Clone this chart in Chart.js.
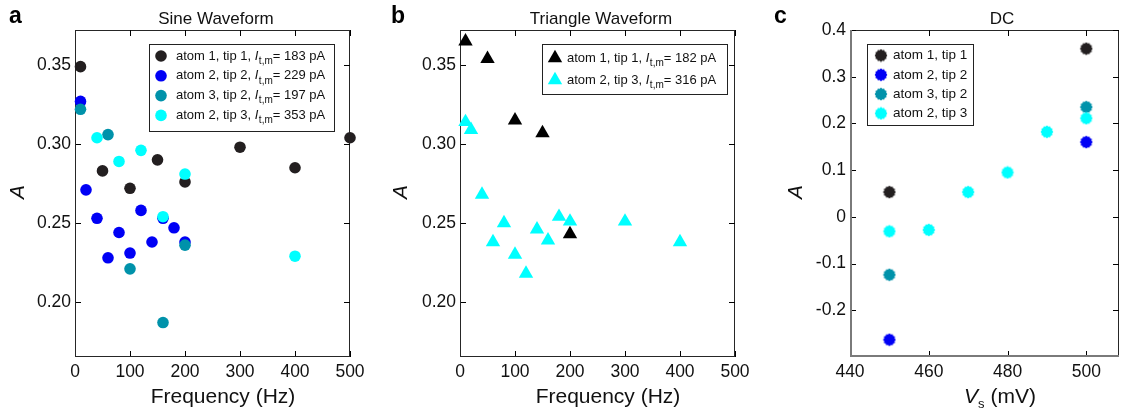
<!DOCTYPE html>
<html>
<head>
<meta charset="utf-8">
<script src="https://cdn.jsdelivr.net/npm/chart.js@4.4.0/dist/chart.umd.min.js"></script>
<style>
  body { margin: 0; background: #fff; width: 1125px; height: 415px; overflow: hidden; position: relative; }
  .panel { position: absolute; top: 0; width: 375px; height: 415px; }
</style>
</head>
<body>
<div class="panel" style="left:0"><canvas id="chart-a" width="375" height="415"></canvas></div>
<div class="panel" style="left:375px"><canvas id="chart-b" width="375" height="415"></canvas></div>
<div class="panel" style="left:750px"><canvas id="chart-c" width="375" height="415"></canvas></div>
<script>
// ---- data ----
const sineFreqAtom1Tip1 = [10, 50, 100, 150, 200, 300, 400, 500];
const sineAmpAtom1Tip1  = [0.349, 0.283, 0.272, 0.290, 0.276, 0.298, 0.285, 0.304];
const sineFreqAtom2Tip2 = [10, 20, 40, 60, 80, 100, 120, 140, 160, 180, 200];
const sineAmpAtom2Tip2  = [0.327, 0.271, 0.253, 0.228, 0.244, 0.231, 0.258, 0.238, 0.253, 0.247, 0.238];
const sineFreqAtom3Tip2 = [10, 60, 100, 160, 200];
const sineAmpAtom3Tip2  = [0.322, 0.306, 0.221, 0.187, 0.236];
const sineFreqAtom2Tip3 = [40, 80, 120, 160, 200, 400];
const sineAmpAtom2Tip3  = [0.304, 0.289, 0.296, 0.254, 0.281, 0.229];
const sineNames    = ['atom 1, tip 1', 'atom 2, tip 2', 'atom 3, tip 2', 'atom 2, tip 3'];
const sineCurrents = [183, 229, 197, 353];

const triFreqAtom1Tip1 = [10, 50, 100, 150, 200];
const triAmpAtom1Tip1  = [0.365, 0.354, 0.315, 0.307, 0.243];
const triFreqAtom2Tip3 = [10, 20, 40, 60, 80, 100, 120, 140, 160, 180, 200, 300, 400];
const triAmpAtom2Tip3  = [0.314, 0.309, 0.268, 0.238, 0.250, 0.230, 0.218, 0.246, 0.239, 0.254, 0.251, 0.251, 0.238];
const triNames    = ['atom 1, tip 1', 'atom 2, tip 3'];
const triCurrents = [182, 316];

const dcVoltAtom1Tip1 = [450, 500];
const dcAmpAtom1Tip1  = [0.053, 0.360];
const dcVoltAtom2Tip2 = [450, 500];
const dcAmpAtom2Tip2  = [-0.263, 0.160];
const dcVoltAtom3Tip2 = [450, 500];
const dcAmpAtom3Tip2  = [-0.124, 0.235];
const dcVoltAtom2Tip3 = [450, 460, 470, 480, 490, 500];
const dcAmpAtom2Tip3  = [-0.031, -0.028, 0.053, 0.095, 0.182, 0.211];
const dcNames = ['atom 1, tip 1', 'atom 2, tip 2', 'atom 3, tip 2', 'atom 2, tip 3'];

const freqTicks = [0, 100, 200, 300, 400, 500];
const waveAmpTicks = [0.20, 0.25, 0.30, 0.35];
const waveAmpTickLabels = ['0.20', '0.25', '0.30', '0.35'];
const voltTicks = [440, 460, 480, 500];
const dcAmpTicks = [-0.2, -0.1, 0, 0.1, 0.2, 0.3, 0.4];
const dcAmpTickLabels = ['-0.2', '-0.1', '0', '0.1', '0.2', '0.3', '0.4'];

const BLACK = '#231f20';
const BLUE = '#0000f5';
const TEAL = '#0092aa';
const CYAN = '#00ffff';
const FONT = '"Liberation Sans", Arial, sans-serif';

function pts(xs, ys) {
    return xs.map((x, i) => ({ x: x, y: ys[i] }));
}

// jagged filled circle, like the matlab hexagram-ish markers in panel c
function makeStar(color) {
    const c = document.createElement('canvas');
    c.width = 14; c.height = 14;
    const g = c.getContext('2d');
    g.fillStyle = color;
    g.beginPath();
    for (let i = 0; i < 24; i++) {
        const ang = i * Math.PI / 12;
        const r = i % 2 ? 5.4 : 6.4;
        g.lineTo(7 + r * Math.cos(ang), 7 + r * Math.sin(ang));
    }
    g.closePath();
    g.fill();
    return c;
}

function drawMarker(ctx, style, color, x, y, r) {
    ctx.fillStyle = color;
    if (style === 'circle') {
        ctx.beginPath();
        ctx.arc(x, y, r, 0, Math.PI * 2);
        ctx.fill();
    } else if (style === 'triangle') {
        ctx.beginPath();
        for (let i = 0; i < 3; i++) {
            const ang = i * 2 * Math.PI / 3;
            ctx.lineTo(x + Math.sin(ang) * r, y - Math.cos(ang) * r);
        }
        ctx.closePath();
        ctx.fill();
    } else {
        ctx.drawImage(style, x - style.width / 2, y - style.height / 2);
    }
}

function drawCurrentLabel(ctx, x, y, name, current) {
    ctx.fillStyle = '#111';
    ctx.textAlign = 'left';
    ctx.textBaseline = 'middle';
    ctx.font = '13px ' + FONT;
    const t = name + ', ';
    ctx.fillText(t, x, y);
    x += ctx.measureText(t).width;
    ctx.font = 'italic 13px ' + FONT;
    ctx.fillText('I', x, y);
    x += ctx.measureText('I').width + 0.5;
    ctx.font = '10px ' + FONT;
    ctx.fillText('t,m', x, y + 5);
    x += ctx.measureText('t,m').width;
    ctx.font = '13px ' + FONT;
    ctx.fillText('= ' + current + ' pA', x, y);
}

// box, inward tick marks on all sides
function drawFrame(chart, o) {
    const ctx = chart.ctx;
    const a = chart.chartArea;
    const xs = chart.scales.x, ys = chart.scales.y;
    const L = Math.round(a.left), R = Math.round(a.right) - 1;
    const T = Math.round(a.top), B = Math.round(a.bottom) - 1;
    ctx.save();
    ctx.fillStyle = o.boxColor;
    ctx.fillRect(L, T, R - L + 1, 1);
    ctx.fillRect(R, T, 1, B - T + 1);
    ctx.fillStyle = '#000';
    o.xTicks.forEach(v => {
        const px = Math.round(xs.getPixelForValue(v));
        ctx.fillRect(px, T, 1, 6);
        ctx.fillRect(px, B - 5, 1, 6);
    });
    o.yTicks.forEach(v => {
        const py = Math.round(ys.getPixelForValue(v));
        ctx.fillRect(R - 5, py, 6, 1);
        ctx.fillRect(L, py, 6, 1);
    });
    ctx.fillStyle = o.axisColor;
    ctx.fillRect(L, T, o.axisWidth, B - T + 1);
    ctx.fillRect(L, B + 1 - o.axisWidth, R - L + 1, o.axisWidth);
    ctx.restore();
}

// panel letter, title, axis titles, legend
function drawDecor(chart, o) {
    const ctx = chart.ctx;
    ctx.save();
    ctx.fillStyle = '#000';
    ctx.textBaseline = 'alphabetic';
    ctx.textAlign = 'left';
    ctx.font = 'bold 23px ' + FONT;
    ctx.fillText(o.letter, o.letterX, 23);

    ctx.textAlign = 'center';
    ctx.textBaseline = 'middle';
    ctx.font = '17px ' + FONT;
    ctx.fillStyle = '#111';
    ctx.fillText(o.title, o.titleX, 19);

    if (o.xTitleSub) {
        ctx.font = 'italic 21px ' + FONT;
        const w1 = ctx.measureText(o.xTitle).width;
        ctx.font = '13px ' + FONT;
        const ws = ctx.measureText(o.xTitleSub).width;
        ctx.font = '21px ' + FONT;
        const w2 = ctx.measureText(o.xTitleRest).width;
        let x = o.xTitleX - (w1 + ws + w2) / 2;
        ctx.textAlign = 'left';
        ctx.font = 'italic 21px ' + FONT;
        ctx.fillText(o.xTitle, x, 397); x += w1;
        ctx.font = '13px ' + FONT;
        ctx.fillText(o.xTitleSub, x, 404); x += ws;
        ctx.font = '21px ' + FONT;
        ctx.fillText(o.xTitleRest, x, 397);
    } else {
        ctx.font = '21px ' + FONT;
        ctx.fillText(o.xTitle, o.xTitleX, 397);
    }

    ctx.save();
    ctx.translate(o.yTitleX, 192);
    ctx.rotate(-Math.PI / 2);
    ctx.textAlign = 'center';
    ctx.font = 'italic 21px ' + FONT;
    ctx.fillText('A', 0, 0);
    ctx.restore();

    const lg = o.legend;
    ctx.fillStyle = '#fff';
    ctx.fillRect(lg.box[0], lg.box[1], lg.box[2], lg.box[3]);
    ctx.strokeStyle = '#222';
    ctx.lineWidth = 1;
    ctx.strokeRect(lg.box[0] + 0.5, lg.box[1] + 0.5, lg.box[2], lg.box[3]);
    const sets = chart.data.datasets;
    lg.items.forEach((idx, row) => {
        const ds = sets[idx];
        const y = lg.rowY + row * lg.rowStep;
        drawMarker(ctx, ds.pointStyle, ds.backgroundColor, lg.markerX, y, ds.pointRadius);
        if (lg.currents) {
            drawCurrentLabel(ctx, lg.textX, y, lg.names[row], lg.currents[row]);
        } else {
            ctx.fillStyle = '#111';
            ctx.textAlign = 'left';
            ctx.textBaseline = 'middle';
            ctx.font = '13.5px ' + FONT;
            ctx.fillText(lg.names[row], lg.textX, y);
        }
    });
    ctx.restore();
}

function scatterSet(data, color, style, radius, order) {
    return {
        data: data,
        backgroundColor: color,
        borderColor: color,
        borderWidth: 0,
        pointStyle: style,
        pointRadius: radius,
        pointBorderWidth: 0,
        order: order,
        clip: false
    };
}

function makeChart(id, cfg) {
    const frame = Object.assign({ xTicks: cfg.xTicks, yTicks: cfg.yTicks }, cfg.frame);
    return new Chart(document.getElementById(id), {
        type: 'scatter',
        data: { datasets: cfg.datasets },
        options: {
            responsive: false,
            animation: false,
            events: [],
            layout: { padding: { top: 30, right: cfg.padRight, left: 0, bottom: 0 } },
            plugins: {
                legend: { display: false },
                tooltip: { enabled: false }
            },
            scales: {
                x: {
                    type: 'linear',
                    min: cfg.xMin, max: cfg.xMax,
                    grid: { display: false },
                    border: { display: false },
                    afterBuildTicks: s => { s.ticks = cfg.xTicks.map(v => ({ value: v })); },
                    afterFit: s => { s.height = 58; },
                    ticks: {
                        padding: -3,
                        color: '#111',
                        font: { family: FONT, size: 17.5 },
                        callback: v => String(v)
                    }
                },
                y: {
                    type: 'linear',
                    min: cfg.yMin, max: cfg.yMax,
                    grid: { display: false },
                    border: { display: false },
                    afterBuildTicks: s => { s.ticks = cfg.yTicks.map(v => ({ value: v })); },
                    afterFit: s => { s.width = cfg.yWidth; },
                    ticks: {
                        padding: -4,
                        color: '#111',
                        font: { family: FONT, size: 17.5 },
                        callback: v => cfg.yLabels[cfg.yTicks.findIndex(t => Math.abs(t - v) < 1e-9)]
                    }
                }
            }
        },
        plugins: [{
            id: 'frame',
            beforeDatasetsDraw: chart => drawFrame(chart, frame),
            afterDraw: chart => drawDecor(chart, frame)
        }]
    });
}

// panel a
makeChart('chart-a', {
    datasets: [
        scatterSet(pts(sineFreqAtom1Tip1, sineAmpAtom1Tip1), BLACK, 'circle', 5.8, 4),
        scatterSet(pts(sineFreqAtom2Tip2, sineAmpAtom2Tip2), BLUE, 'circle', 5.8, 3),
        scatterSet(pts(sineFreqAtom3Tip2, sineAmpAtom3Tip2), TEAL, 'circle', 5.8, 2),
        scatterSet(pts(sineFreqAtom2Tip3, sineAmpAtom2Tip3), CYAN, 'circle', 5.8, 1)
    ],
    xMin: 0, xMax: 500, xTicks: freqTicks,
    yMin: 0.1652, yMax: 0.3722, yTicks: waveAmpTicks, yLabels: waveAmpTickLabels,
    yWidth: 75, padRight: 25,
    frame: {
        letter: 'a', letterX: 9, title: 'Sine Waveform', titleX: 216,
        xTitle: 'Frequency (Hz)', xTitleX: 223, yTitleX: 18,
        boxColor: '#262626', axisColor: '#262626', axisWidth: 1,
        legend: { box: [149, 44, 185, 87], markerX: 161, textX: 176, rowY: 56, rowStep: 19.8,
                  items: [0, 1, 2, 3], names: sineNames, currents: sineCurrents }
    }
});

// panel b
makeChart('chart-b', {
    datasets: [
        scatterSet(pts(triFreqAtom1Tip1, triAmpAtom1Tip1), '#000000', 'triangle', 8.3, 1),
        scatterSet(pts(triFreqAtom2Tip3, triAmpAtom2Tip3), CYAN, 'triangle', 8.3, 2)
    ],
    xMin: 0, xMax: 500, xTicks: freqTicks,
    yMin: 0.1652, yMax: 0.3722, yTicks: waveAmpTicks, yLabels: waveAmpTickLabels,
    yWidth: 85, padRight: 15,
    frame: {
        letter: 'b', letterX: 16, title: 'Triangle Waveform', titleX: 226,
        xTitle: 'Frequency (Hz)', xTitleX: 233, yTitleX: 26,
        boxColor: '#262626', axisColor: '#262626', axisWidth: 1,
        legend: { box: [167, 44, 185, 50], markerX: 180, textX: 192, rowY: 58, rowStep: 22,
                  items: [0, 1], names: triNames, currents: triCurrents }
    }
});

// panel c
makeChart('chart-c', {
    datasets: [
        scatterSet(pts(dcVoltAtom1Tip1, dcAmpAtom1Tip1), BLACK, makeStar(BLACK), 6, 4),
        scatterSet(pts(dcVoltAtom2Tip2, dcAmpAtom2Tip2), BLUE, makeStar(BLUE), 6, 3),
        scatterSet(pts(dcVoltAtom3Tip2, dcAmpAtom3Tip2), TEAL, makeStar(TEAL), 6, 2),
        scatterSet(pts(dcVoltAtom2Tip3, dcAmpAtom2Tip3), CYAN, makeStar(CYAN), 6, 1)
    ],
    xMin: 440, xMax: 508.3, xTicks: voltTicks,
    yMin: -0.3, yMax: 0.4, yTicks: dcAmpTicks, yLabels: dcAmpTickLabels,
    yWidth: 100, padRight: 2,
    frame: {
        letter: 'c', letterX: 24, title: 'DC', titleX: 252,
        xTitle: 'V', xTitleSub: 's', xTitleRest: ' (mV)', xTitleX: 250, yTitleX: 46,
        boxColor: '#262626', axisColor: '#7a7a7a', axisWidth: 2,
        legend: { box: [117, 44, 106, 81], markerX: 131, textX: 143, rowY: 55.5, rowStep: 19.3,
                  items: [0, 1, 2, 3], names: dcNames }
    }
});
</script>
</body>
</html>
